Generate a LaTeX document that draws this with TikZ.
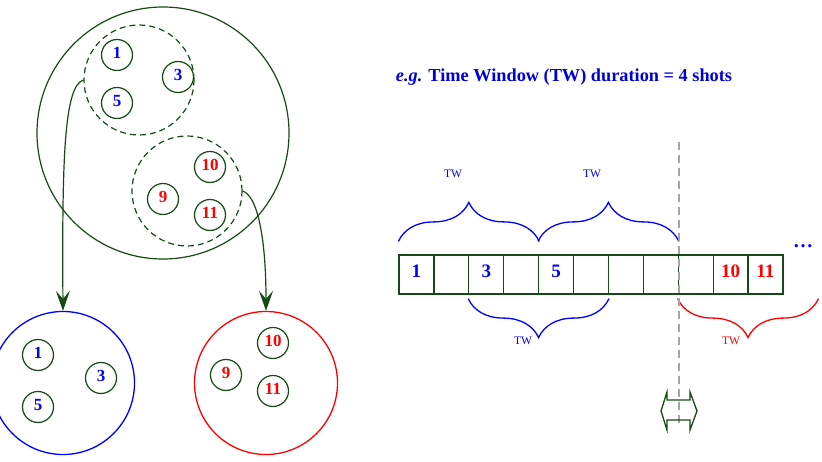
\documentclass[tikz,border=0pt]{standalone}
\usepackage{fontspec}
\setmainfont{Liberation Serif}
\usetikzlibrary{positioning,arrows.meta,decorations.pathreplacing}

\definecolor{dkgreen}{RGB}{20,75,20}
\definecolor{cutgray}{RGB}{165,165,165}

\begin{document}
\begin{tikzpicture}[
    x=1pt, y=-1pt,
    shot/.style={circle, draw=dkgreen, line width=1.2pt, inner sep=0pt, minimum size=31pt,
                 text depth=4pt, font=\bfseries\fontsize{17}{17}\selectfont},
    group/.style={circle, draw=dkgreen, line width=1.2pt, dash pattern=on 6pt off 4pt, minimum size=110pt},
    cluster/.style={circle, line width=1.3pt, minimum size=143pt},
    cell/.style={rectangle, draw=dkgreen, line width=1.2pt, inner sep=0pt, minimum width=34.9pt,
                 minimum height=39pt, text depth=7pt, font=\bfseries\fontsize{19}{19}\selectfont},
    flow/.style={draw=dkgreen, line width=1.2pt, -{Stealth[length=20pt, width=14pt, inset=8pt]}},
    tw/.style={draw, line width=1.3pt, decorate, decoration={brace, amplitude=39pt}},
    twlabel/.style={font=\fontsize{11.5}{11.5}\selectfont}
]
\useasboundingbox (0,0) rectangle (822,462);

% All shots and the two windows
\node[circle, draw=dkgreen, line width=1.2pt, minimum size=252pt] (pool) at (163,133) {};
\node[group] (g1) at (139,80) {};
\node[group] (g2) at (187,191) {};
\node[shot, text=blue] (a1) at (117,55) {1};
\node[shot, text=blue] (a3) at (178,77) {3};
\node[shot, text=blue] (a5) at (117,103) {5};
\node[shot, text=red] (a10) at (210,167) {10};
\node[shot, text=red] (a9) at (163,199) {9};
\node[shot, text=red] (a11) at (210,215) {11};

% Resulting clusters
\node[cluster, draw=blue] (bl) at (63,383) {};
\node[shot, text=blue] (b1) at (38,355) {1};
\node[shot, text=blue] (b3) at (101,378) {3};
\node[shot, text=blue] (b5) at (38,407) {5};
\node[cluster, draw=red] (rd) at (266,383) {};
\node[shot, text=red] (r10) at (273,343) {10};
\node[shot, text=red] (r9) at (226,375) {9};
\node[shot, text=red] (r11) at (273,391) {11};

\draw[flow] (g1.west) .. controls (64,86) and (62,160) .. (bl.north);
\draw[flow] (g2.east) .. controls (258,196) and (266,240) .. (rd.north);

% Time line
\node[font=\bfseries\fontsize{18.3}{18.3}\selectfont, text=blue!85!black] (title) at (564,77)
    {\textit{e.g.} Time Window (TW) duration = 4 shots};

\foreach \i/\t/\c in {1/1/blue, 2/{}/blue, 3/3/blue, 4/{}/blue, 5/5/blue, 6/{}/blue,
                      7/{}/blue, 8/{}/blue, 9/{}/red, 10/10/red, 11/11/red} {
    \node[cell, text=\c] (c\i) at ({399+34.9*(\i-0.5)},274.5) {\t};
}
\node[text=blue, font=\bfseries\fontsize{20}{20}\selectfont] (more) at (803,246) {\dots};

\draw[tw, blue] ([yshift=13pt]c1.north west) -- ([yshift=13pt]c4.north east);
\draw[tw, blue] ([yshift=13pt]c5.north west) -- ([yshift=13pt]c8.north east);
\draw[tw, blue] ([yshift=-4pt]c6.south east) -- ([yshift=-4pt]c3.south west);
\draw[tw, red] ([xshift=35pt, yshift=-4pt]c11.south east) -- ([yshift=-4pt]c9.south west);

\node[twlabel, text=blue] (tw1) at (453,174) {TW};
\node[twlabel, text=blue] (tw2) at (592,174) {TW};
\node[twlabel, text=blue] (tw3) at (523,341) {TW};
\node[twlabel, text=red] (tw4) at (731,341) {TW};

% Cut between windows
\coordinate (cuttop) at (679,142);
\coordinate (cutbot) at (679,426);
\draw[cutgray, line width=1.5pt, dash pattern=on 8pt off 5pt] (cuttop) -- (cutbot);
\draw[dkgreen, line width=1.3pt] (661,411) -- (667,392) -- (667,400) -- (690,400) -- (690,392)
    -- (697,411) -- (690,430) -- (690,420) -- (667,420) -- (667,430) -- cycle;

\end{tikzpicture}
\end{document}
